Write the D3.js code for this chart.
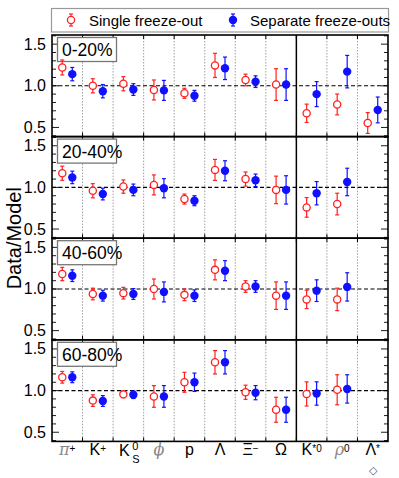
<!DOCTYPE html>
<html>
<head>
<meta charset="utf-8">
<script src="https://cdn.jsdelivr.net/npm/d3@7"></script>
<style>
  body { margin: 0; background: #fff; }
  text { font-family: "Liberation Sans", Arial, sans-serif; }
</style>
</head>
<body>
<div id="chart"></div>
<script>
(function() {
  'use strict';

  // particle species (x categories)
  var categories = ['pi', 'K+', 'K0S', 'phi', 'p', 'Lambda', 'Xi', 'Omega', 'K*0', 'rho0', 'Lambda*'];

  var centralities = ['0-20%', '20-40%', '40-60%', '60-80%'];

  // Single freeze-out : value and error, per centrality
  var singleVal = [
    [1.22, 1.00, 1.025, 0.95, 0.91, 1.245, 1.07, 1.015, 0.67, 0.776, 0.553],
    [1.17, 0.96, 1.01, 1.03, 0.86, 1.21, 1.10, 0.97, 0.76, 0.80, null],
    [1.18, 0.94, 0.95, 1.00, 0.93, 1.23, 1.03, 0.92, 0.875, 0.875, null],
    [1.16, 0.88, 0.955, 0.93, 1.10, 1.34, 0.98, 0.77, 0.96, 1.01, null]
  ];
  var singleErr = [
    [0.09, 0.085, 0.085, 0.12, 0.06, 0.145, 0.07, 0.19, 0.11, 0.125, 0.125],
    [0.085, 0.085, 0.08, 0.12, 0.06, 0.126, 0.085, 0.165, 0.118, 0.13, null],
    [0.08, 0.07, 0.07, 0.12, 0.07, 0.12, 0.07, 0.165, 0.11, 0.135, null],
    [0.07, 0.07, 0.04, 0.13, 0.12, 0.14, 0.085, 0.15, 0.145, 0.18, null]
  ];

  // Separate freeze-outs : value and error, per centrality
  var separateVal = [
    [1.14, 0.935, 0.955, 0.945, 0.88, 1.21, 1.05, 1.015, 0.90, 1.17, 0.71],
    [1.12, 0.92, 0.97, 0.99, 0.84, 1.20, 1.085, 0.97, 0.93, 1.065, null],
    [1.16, 0.92, 0.94, 0.965, 0.92, 1.22, 1.03, 0.92, 0.98, 1.025, null],
    [1.16, 0.875, 0.95, 0.93, 1.10, 1.34, 0.975, 0.77, 0.965, 1.02, null]
  ];
  var separateErr = [
    [0.08, 0.08, 0.07, 0.12, 0.065, 0.135, 0.07, 0.19, 0.15, 0.195, 0.155],
    [0.075, 0.07, 0.07, 0.115, 0.06, 0.12, 0.075, 0.17, 0.14, 0.165, null],
    [0.07, 0.065, 0.065, 0.12, 0.07, 0.12, 0.07, 0.165, 0.13, 0.17, null],
    [0.065, 0.065, 0.045, 0.13, 0.11, 0.14, 0.085, 0.15, 0.14, 0.17, null]
  ];

  var yTicks = [0.5, 1.0, 1.5];

  var svgW = 399,
    svgH = 478,
    left = 52,
    right = 388,
    top = 35,
    panelH = 101.6,
    off = 5;

  var svg = d3.select('#chart')
    .append('svg')
    .attr('width', svgW)
    .attr('height', svgH);

  var x = d3.scaleBand()
    .domain(categories)
    .range([left, right]);

  var y = d3.scaleLinear()
    .domain([0.39, 1.61])
    .range([panelH, 0]);

  // legend
  var leg = svg.append('g');
  leg.append('rect')
    .attr('x', 51.5).attr('y', 8.5)
    .attr('width', 337).attr('height', 23.5)
    .attr('fill', '#fff')
    .attr('stroke', '#999')
    .attr('stroke-width', 1.2);
  drawMarker(leg, 71, 20, 6, 'single');
  leg.append('text').attr('x', 89).attr('y', 25.5)
    .attr('font-size', 15).text('Single freeze-out');
  drawMarker(leg, 233, 20, 6, 'separate');
  leg.append('text').attr('x', 250).attr('y', 25.5)
    .attr('font-size', 15).text('Separate freeze-outs');

  centralities.forEach(function(cent, p) {
    var g = svg.append('g')
      .attr('transform', 'translate(0,' + (top + p * panelH) + ')');

    // dividers between species
    categories.forEach(function(c, i) {
      if (i === 0) return;
      var xx = x(c);
      g.append('line')
        .attr('x1', xx).attr('x2', xx)
        .attr('y1', 0).attr('y2', panelH)
        .attr('stroke', i === 8 ? '#000' : '#888')
        .attr('stroke-width', i === 8 ? 1.5 : 0.8)
        .attr('stroke-dasharray', i === 8 ? null : '1.5,1.5');
      // small inward ticks top and bottom
      g.append('line').attr('x1', xx).attr('x2', xx).attr('y1', 0).attr('y2', 4)
        .attr('stroke', '#000').attr('stroke-width', 1);
      g.append('line').attr('x1', xx).attr('x2', xx).attr('y1', panelH).attr('y2', panelH - 4)
        .attr('stroke', '#000').attr('stroke-width', 1);
    });

    // y ticks, minor every 0.1
    d3.range(4, 17).forEach(function(k) {
      var v = k / 10;
      var major = (k % 5 === 0);
      var len = major ? 7 : 4;
      g.append('line').attr('x1', left).attr('x2', left + len)
        .attr('y1', y(v)).attr('y2', y(v))
        .attr('stroke', '#000').attr('stroke-width', 0.9);
      g.append('line').attr('x1', right).attr('x2', right - len)
        .attr('y1', y(v)).attr('y2', y(v))
        .attr('stroke', '#000').attr('stroke-width', 0.9);
    });

    g.selectAll('text.ytick')
      .data(yTicks)
      .enter()
      .append('text')
      .attr('class', 'ytick')
      .attr('x', 46)
      .attr('y', function(d) { return y(d) + 5.5; })
      .attr('text-anchor', 'end')
      .attr('font-size', 16)
      .text(function(d) { return d.toFixed(1); });

    // reference line at 1
    g.append('line')
      .attr('x1', left).attr('x2', right)
      .attr('y1', y(1)).attr('y2', y(1))
      .attr('stroke', '#000').attr('stroke-width', 1.1)
      .attr('stroke-dasharray', '4,2.5');

    // frame
    g.append('rect')
      .attr('x', left).attr('y', 0)
      .attr('width', right - left).attr('height', panelH)
      .attr('fill', 'none').attr('stroke', '#000').attr('stroke-width', 1.6);

    // centrality label
    g.append('rect')
      .attr('x', 57.5).attr('y', 2.5)
      .attr('width', 59).attr('height', 24)
      .attr('fill', '#fff').attr('stroke', '#777').attr('stroke-width', 1.3);
    g.append('text')
      .attr('x', 62).attr('y', 21)
      .attr('font-size', 17.5).text(cent);

    // points
    categories.forEach(function(c, i) {
      var cx = x(c) + x.bandwidth() / 2;
      if (singleVal[p][i] !== null) {
        drawPoint(g, cx - off, singleVal[p][i], singleErr[p][i], 'single');
      }
      if (separateVal[p][i] !== null) {
        drawPoint(g, cx + off, separateVal[p][i], separateErr[p][i], 'separate');
      }
    });
  });

  function drawPoint(g, cx, v, e, kind) {
    var col = kind === 'single' ? '#ff2020' : '#1010ff';
    g.append('line')
      .attr('x1', cx).attr('x2', cx)
      .attr('y1', y(v - e)).attr('y2', y(v + e))
      .attr('stroke', col).attr('stroke-width', 1.2);
    [v - e, v + e].forEach(function(t) {
      g.append('line')
        .attr('x1', cx - 2).attr('x2', cx + 2)
        .attr('y1', y(t)).attr('y2', y(t))
        .attr('stroke', col).attr('stroke-width', 1.2);
    });
    if (kind === 'single') {
      g.append('circle').attr('cx', cx).attr('cy', y(v)).attr('r', 3.6)
        .attr('fill', '#fff').attr('stroke', col).attr('stroke-width', 1.3);
    } else {
      g.append('circle').attr('cx', cx).attr('cy', y(v)).attr('r', 4.2)
        .attr('fill', col);
    }
  }

  function drawMarker(g, cx, cy, e, kind) {
    var col = kind === 'single' ? '#ff2020' : '#1010ff';
    g.append('line').attr('x1', cx).attr('x2', cx)
      .attr('y1', cy - e).attr('y2', cy + e)
      .attr('stroke', col).attr('stroke-width', 1.2);
    [cy - e, cy + e].forEach(function(t) {
      g.append('line').attr('x1', cx - 2).attr('x2', cx + 2)
        .attr('y1', t).attr('y2', t)
        .attr('stroke', col).attr('stroke-width', 1.2);
    });
    if (kind === 'single') {
      g.append('circle').attr('cx', cx).attr('cy', cy).attr('r', 3.6)
        .attr('fill', '#fff').attr('stroke', col).attr('stroke-width', 1.3);
    } else {
      g.append('circle').attr('cx', cx).attr('cy', cy).attr('r', 4.2).attr('fill', col);
    }
  }

  // x labels
  var bottom = top + 4 * panelH;
  var lblY = bottom + 14;
  var xl = svg.append('g').attr('font-size', 16);
  function cxOf(i) { return x(categories[i]) + x.bandwidth() / 2; }

  function addLabel(i, parts) {
    var t = xl.append('text')
      .attr('x', cxOf(i)).attr('y', lblY)
      .attr('text-anchor', 'middle');
    parts.forEach(function(pt) {
      var s = t.append('tspan').text(pt.t);
      if (pt.sup) s.attr('baseline-shift', '35%').attr('font-size', 10);
      if (pt.it) s.attr('font-family', '"DejaVu Serif", serif').attr('font-style', 'italic').attr('fill', '#888');
    });
  }

  addLabel(0, [{t: 'π', it: true}, {t: '+', sup: true}]);
  addLabel(1, [{t: 'K'}, {t: '+', sup: true}]);
  addLabel(3, [{t: 'ϕ', it: true}]);
  addLabel(4, [{t: 'p'}]);
  addLabel(5, [{t: 'Λ'}]);
  addLabel(6, [{t: 'Ξ'}, {t: '−', sup: true}]);
  addLabel(7, [{t: 'Ω'}]);
  addLabel(8, [{t: 'K'}, {t: '*0', sup: true}]);
  addLabel(9, [{t: 'ρ', it: true}, {t: '0', sup: true}]);
  addLabel(10, [{t: 'Λ'}, {t: '*', sup: true}]);

  // K0S with stacked sup/sub
  var k0 = xl.append('g');
  k0.append('text').attr('x', cxOf(2) - 4).attr('y', lblY + 1)
    .attr('text-anchor', 'middle').text('K');
  k0.append('text').attr('x', cxOf(2) + 4).attr('y', lblY - 5)
    .attr('font-size', 11).text('0');
  k0.append('text').attr('x', cxOf(2) + 4).attr('y', lblY + 8)
    .attr('font-size', 11).text('S');

  xl.append('text')
    .attr('x', cxOf(10)).attr('y', lblY + 19)
    .attr('text-anchor', 'middle')
    .attr('font-size', 11)
    .attr('fill', '#555')
    .text('◇');

  // y axis title
  svg.append('text')
    .attr('transform', 'translate(21,' + (top + 2 * panelH) + ') rotate(-90)')
    .attr('text-anchor', 'middle')
    .attr('font-size', 20)
    .text('Data/Model');

}());
</script>
</body>
</html>
